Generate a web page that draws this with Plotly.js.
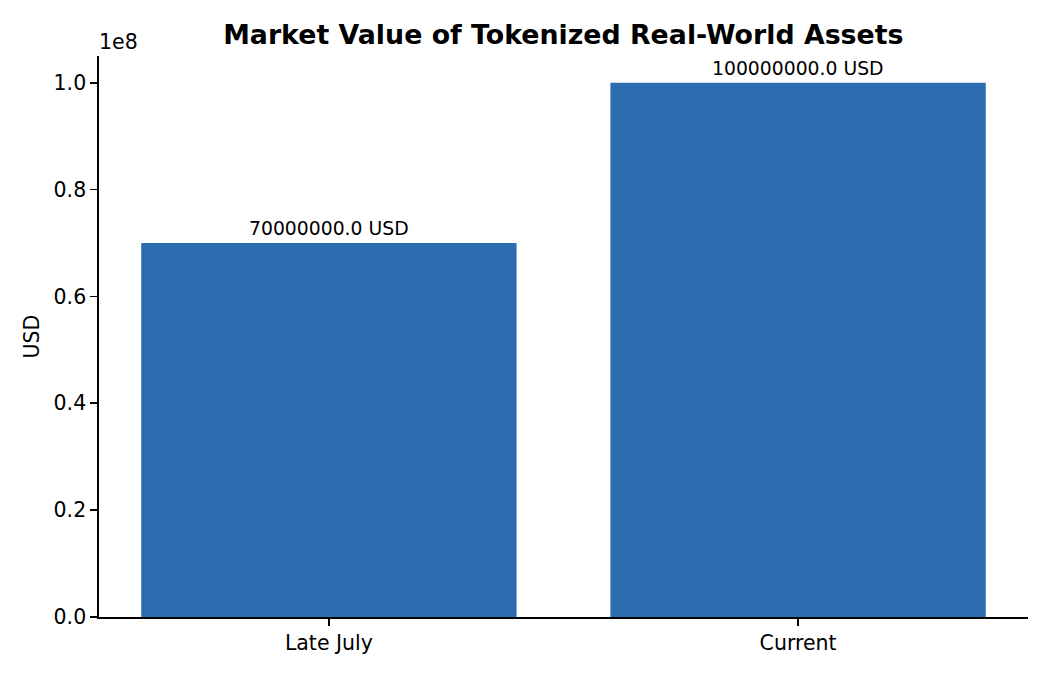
<!DOCTYPE html>
<html>
<head>
<meta charset="utf-8">
<script src="https://cdn.plot.ly/plotly-3.0.1.min.js"></script>
<style>
  html, body { margin: 0; padding: 0; background: #fff; }
  #chart { width: 1050px; height: 675px; }
</style>
</head>
<body>
<div id="chart"></div>
<script>
// data
var categories = ["Late July", "Current"];
var values = [70000000, 100000000];
var tickVals = [0, 20000000, 40000000, 60000000, 80000000, 100000000];
var tickLabels = ["0.0", "0.2", "0.4", "0.6", "0.8", "1.0"];

var barColor = "#2c6cb0";
var font = "DejaVu Sans, sans-serif";

var trace = {
  x: categories,
  y: values,
  type: "bar",
  width: 0.8,
  marker: { color: barColor },
  hoverinfo: "none"
};

// value labels above each bar
var notes = [];
for (var i = 0; i < categories.length; i++) {
  notes.push({
    x: categories[i],
    y: values[i],
    xref: "x",
    yref: "y",
    text: values[i].toFixed(1) + " USD",
    showarrow: false,
    xanchor: "center",
    yanchor: "bottom",
    yshift: 2,
    font: { family: font, size: 18.8, color: "#000" }
  });
}
// offset text of the y axis
notes.push({
  x: 0,
  y: 1,
  xref: "paper",
  yref: "paper",
  text: "1e8",
  showarrow: false,
  xanchor: "left",
  yanchor: "bottom",
  xshift: -2,
  yshift: 0,
  font: { family: font, size: 20.5, color: "#000" }
});

var layout = {
  width: 1050,
  height: 675,
  margin: { l: 99, r: 22, t: 56, b: 58 },
  paper_bgcolor: "#fff",
  plot_bgcolor: "#fff",
  showlegend: false,
  font: { family: font, color: "#000" },
  title: {
    text: "<b>Market Value of Tokenized Real-World Assets</b>",
    font: { family: font, size: 26.8, color: "#000" },
    x: 0.5365,
    xanchor: "center",
    y: 0.949,
    yanchor: "middle"
  },
  xaxis: {
    range: [-0.49, 1.49],
    showline: true,
    linecolor: "#000",
    linewidth: 1.7,
    ticks: "outside",
    ticklen: 7,
    tickwidth: 1.7,
    tickcolor: "#000",
    showgrid: false,
    zeroline: false,
    tickfont: { family: font, size: 20.5, color: "#000" }
  },
  yaxis: {
    range: [0, 105000000],
    tickvals: tickVals,
    ticktext: tickLabels,
    showline: true,
    linecolor: "#000",
    linewidth: 1.7,
    ticks: "outside",
    ticklen: 7,
    tickwidth: 1.7,
    tickcolor: "#000",
    showgrid: false,
    zeroline: false,
    tickfont: { family: font, size: 20.5, color: "#000" },
    title: { text: "USD", font: { family: font, size: 20.5, color: "#000" }, standoff: 8 }
  },
  annotations: notes
};

Plotly.newPlot("chart", [trace], layout, { staticPlot: true, displayModeBar: false });
</script>
</body>
</html>
